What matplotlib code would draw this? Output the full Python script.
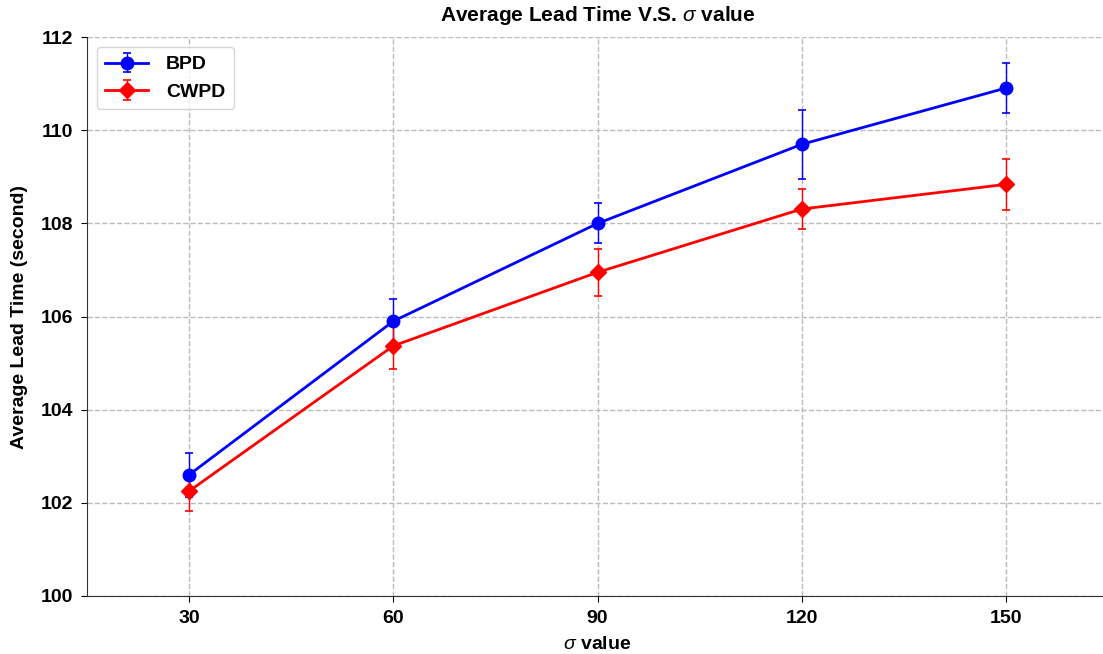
import matplotlib
matplotlib.use("Agg")
import matplotlib.pyplot as plt

plt.rcParams['font.family'] = ['Liberation Sans', 'DejaVu Sans']
plt.rcParams['font.weight'] = 'bold'
plt.rcParams['mathtext.fontset'] = 'custom'
plt.rcParams['mathtext.it'] = 'Liberation Sans:italic:normal'
plt.rcParams['mathtext.rm'] = 'Liberation Sans'

sigma = [30, 60, 90, 120, 150]
bpd_mean = [102.60, 105.90, 108.00, 109.70, 110.91]
bpd_err = [0.47, 0.48, 0.43, 0.74, 0.54]
cwpd_mean = [102.25, 105.37, 106.95, 108.31, 108.84]
cwpd_err = [0.43, 0.50, 0.50, 0.42, 0.55]
yticks = [100, 102, 104, 106, 108, 110, 112]

fig = plt.figure(figsize=(11.03, 6.54), dpi=100)
ax = fig.add_axes([0.0789, 0.089, 0.9257, 0.854])

ax.errorbar(sigma, bpd_mean, yerr=bpd_err, color='#0000ff', marker='o', markersize=9,
            linewidth=2, capsize=3, elinewidth=1, capthick=1.2, label='BPD', zorder=3)
ax.errorbar(sigma, cwpd_mean, yerr=cwpd_err, color='#ff0000', marker='D', markersize=8.5,
            linewidth=2, capsize=3, elinewidth=1, capthick=1.2, label='CWPD', zorder=3)

ax.set_xlim(15, 165)
ax.set_ylim(100, 112)
ax.set_xticks(sigma)
ax.set_yticks(yticks)
ax.tick_params(labelsize=14, length=4, pad=6)
for lbl in ax.get_xticklabels() + ax.get_yticklabels():
    lbl.set_fontweight('bold')
ax.grid(True, linestyle='--', color='#bbbbbb', linewidth=1)
ax.set_axisbelow(True)
ax.spines['top'].set_visible(False)
ax.spines['right'].set_visible(False)
ax.spines['left'].set_color('#333333')
ax.spines['bottom'].set_color('#333333')

ax.set_xlabel(r'$\sigma$ value', fontsize=14, fontweight='bold', labelpad=7)
ax.set_ylabel('Average Lead Time (second)', fontsize=14, fontweight='bold', labelpad=9)
ax.set_title(r'Average Lead Time V.S. $\sigma$ value', fontsize=15, fontweight='bold', pad=12)
ax.legend(loc='upper left', fontsize=14, framealpha=0.8, handlelength=2.2,
          borderpad=0.45, handletextpad=0.9)

fig.savefig('out.png', dpi=100)
